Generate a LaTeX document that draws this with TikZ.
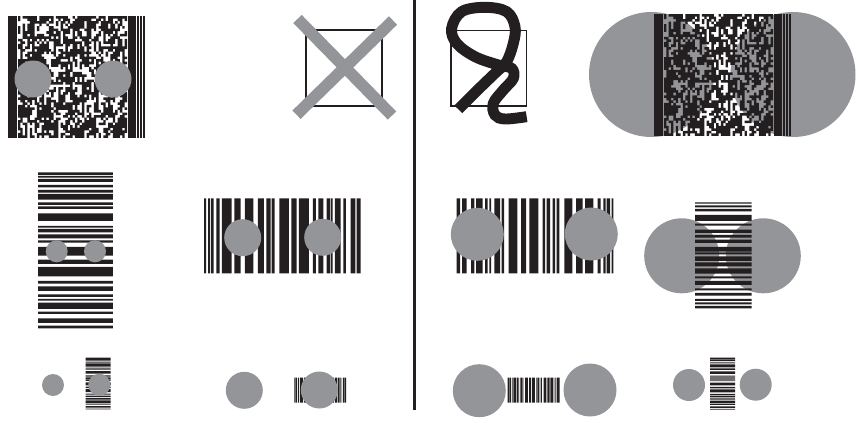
\documentclass[tikz,border=0pt]{standalone}
\usepackage{tikz}

\definecolor{barblack}{HTML}{231F20}
\definecolor{dotgrey}{HTML}{939598}

% bar lists, measured on a 3:1 grid
\def\rowsA{0/8,11/16,20/29,38/45,53/61,65/82,90/98,102/110,123/146,161/166,170/180,186/198,204/211,224/250,262/275,284/312,326/334,342/356,366/374,380/385,391/410,418/425,438/452,460/468}
\def\rowsB{0/4,9/15,20/27,38/56,64/70,82/92,98/106,112/122,134/148,150/156,162/176,180/192,198/214,222/228,236/248,258/264,272/280,290/296,300/306,311/318}
\def\colsA{0/6,12/18,21/29,37/47,54/83,91/110,123/148,162/180,187/200,203/212,226/255,262/278,285/315,327/336,343/358,368/378,380/386,393/410,418/426,440/454,458/470}
\def\colsB{0/10,16/30,43/53,58/78,85/93,98/103,113/130,135/142,156/182,193/208,218/245,258/265,270/280,288/295,300/308,323/347,358/378,385/410,423/432,440/447,450/460,465/470}

% #1 x, #2 y, #3 scale, #4 list, #5 length across the bars
\newcommand{\rowcode}[5]{%
    \begin{scope}[shift={(#1,#2)},scale=#3]
        \fill[bar] \foreach \a/\b in #4 {(0,\a) rectangle (#5,\b)};
    \end{scope}}
\newcommand{\colcode}[5]{%
    \begin{scope}[shift={(#1,#2)},scale=#3]
        \fill[bar] \foreach \a/\b in #4 {(\a,0) rectangle (\b,#5)};
    \end{scope}}

% stacked code, 137 wide and 122 high
\newcommand{\stackcode}[2]{%
    \begin{scope}[shift={(#1,#2)}]
        \pgfmathsetseed{417}
        \fill[bar] (0,0) rectangle (8.7,122);
        \fill[bar] (120.3,0) rectangle (127.7,122);
        \fill[bar] (129.3,0) rectangle (131,122);
        \fill[bar] (132.3,0) rectangle (133.5,122);
        \fill[bar] (134.8,0) rectangle (137,122);
        \fill[bar] \foreach \col in {0,...,45} {
            \pgfextra{\gdef\prevcell{1}}
            \foreach \row in {0,...,47} {
            \pgfextra{\pgfmathsetmacro{\cellx}{10+2.37*\col}
                \pgfmathsetmacro{\celly}{2.54*\row}
                \pgfmathsetmacro{\pick}{rnd}
                \pgfmathsetmacro{\limit}{\prevcell>0 ? 0.28 : 0.55}
                \pgfmathsetmacro{\keep}{\pick<\limit ? 0 : 1}
                \xdef\prevcell{\keep}}
            \ifdim\keep pt>0.5pt
                (\cellx,\celly) rectangle ++(2.37,2.54)
            \fi}};
    \end{scope}}

\begin{document}
\begin{tikzpicture}[
    x=0.75pt,
    y=-0.75pt,
    bar/.style={fill=barblack},
    dot/.style={fill=dotgrey},
    cross/.style={draw=dotgrey, line width=8.8pt},
    frame/.style={draw=barblack, line width=0.9pt},
    squiggle/.style={draw=barblack, line width=8.2pt}
]

\useasboundingbox (0,0) rectangle (858,422);

% ------------------------------------------------------------------
% Top row
% ------------------------------------------------------------------

\stackcode{8}{16}
\fill[dot] (33,79) circle (18.5);
\fill[dot] (113,79) circle (18.5);

\draw[frame] (306,30) rectangle (382,106);
\draw[cross] (297.5,19) -- (392,115.5);
\draw[cross] (393,20.5) -- (296.5,114.7);

\draw[frame] (451,30.5) rectangle (526.5,106);
\begin{scope}[shift={(445,0)},scale=0.3333]
    \draw[squiggle] plot[smooth,tension=0.6] coordinates {
        (40,328) (100,268) (155,215) (185,185) (205,130) (210,80)
        (185,35) (120,22) (50,35) (20,85) (35,130) (90,170)
        (160,195) (200,205) (205,235) (175,270) (145,310) (150,345)
        (180,357) (245,350)};
\end{scope}

\fill[dot] (651.5,74.5) circle (62.5);
\fill[dot] (793,74.5) circle (62.5);
\stackcode{654}{14}

% ------------------------------------------------------------------
% Middle row
% ------------------------------------------------------------------

\rowcode{38}{172.3}{0.3333}{\rowsA}{225}
\fill[dot] (56.7,251.3) circle (11);
\fill[dot] (95,251.3) circle (11);

\colcode{204}{198.3}{0.3333}{\colsA}{225}
\fill[dot] (242.7,237.7) circle (18.5);
\fill[dot] (322.7,237.3) circle (18.5);

\colcode{456.7}{198.3}{0.3333}{\colsB}{225}
\fill[dot] (477.3,234.3) circle (26.5);
\fill[dot] (591.3,234) circle (26.5);

\fill[dot] (681.7,255.8) circle (37.5);
\fill[dot] (763.3,255.8) circle (37.5);
\rowcode{695}{202.3}{0.3333}{\rowsB}{170}

% ------------------------------------------------------------------
% Bottom row
% ------------------------------------------------------------------

\fill[dot] (53,385) circle (11);
\rowcode{85.7}{357.5}{0.1111}{\rowsA}{225}
\fill[dot] (99.3,384.7) circle (11);

\fill[dot] (244.3,390.3) circle (18.5);
\colcode{294}{377.7}{0.1111}{\colsA}{225}
\fill[dot] (319.3,390) circle (18.5);

\fill[dot] (479.3,390.7) circle (26.5);
\colcode{507.7}{377.5}{0.1111}{\colsB}{225}
\fill[dot] (590,390) circle (26.5);

\fill[dot] (689,385) circle (16);
\rowcode{710}{357.7}{0.1111}{\rowsA}{225}
\fill[dot] (755.7,384.7) circle (16);

% ------------------------------------------------------------------
% Divider
% ------------------------------------------------------------------

\fill[bar] (413.3,0) rectangle (416.4,410);

\end{tikzpicture}
\end{document}
